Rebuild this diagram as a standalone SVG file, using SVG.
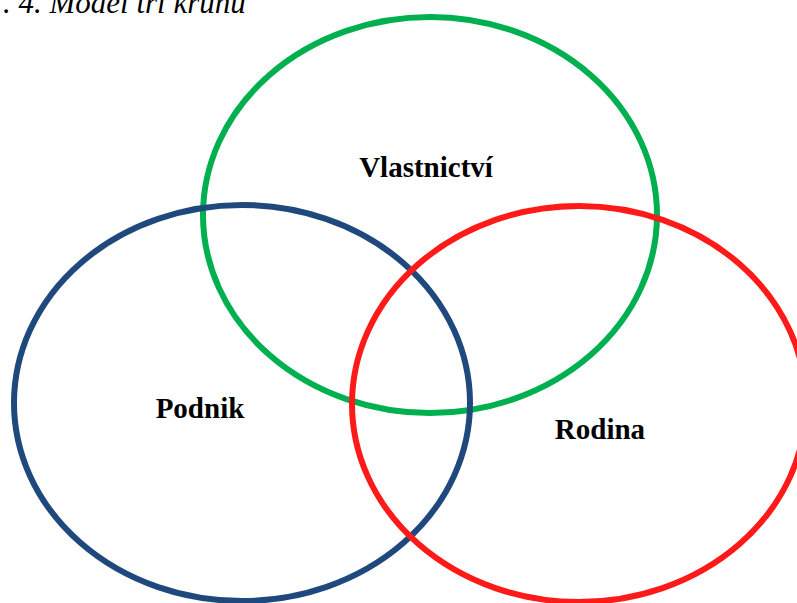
<svg xmlns="http://www.w3.org/2000/svg" width="797" height="603" viewBox="0 0 797 603">
<style>
.c{fill:none;stroke-width:6}
.t{font-family:"Liberation Serif","Times New Roman",serif;font-weight:bold;font-size:29px;text-anchor:middle;fill:#000}
.cap{font-family:"Liberation Serif","Times New Roman",serif;font-style:italic;font-size:31px;fill:#000}
</style>
<rect width="797" height="603" fill="#fff"/>
<text class="cap" x="3" y="13">. 4. Model tří kruhů</text>
<g id="vlastnictvi">
<ellipse class="c" cx="430" cy="215" rx="227" ry="198" stroke="#00B050"/>
<text class="t" x="426" y="177">Vlastnictví</text>
</g>
<g id="podnik">
<ellipse class="c" cx="242" cy="403" rx="228" ry="198" stroke="#1F497D"/>
<text class="t" x="200" y="418">Podnik</text>
</g>
<g id="rodina">
<ellipse class="c" cx="579" cy="404" rx="227" ry="198" stroke="#FF1A1A"/>
<text class="t" x="600" y="439">Rodina</text>
</g>
<g id="connectors"/>
</svg>
